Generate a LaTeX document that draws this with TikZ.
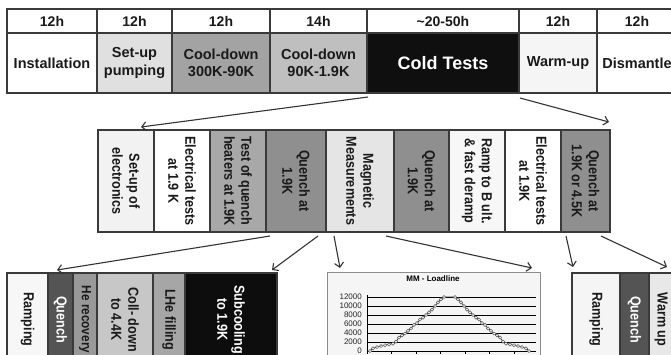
\documentclass[tikz,border=0pt]{standalone}
\usepackage{fontspec}
\setmainfont{Liberation Sans}
\newfontfamily\cond[FakeStretch=0.87]{Liberation Sans}
\usetikzlibrary{arrows.meta}
\definecolor{bord}{HTML}{3A3A3A}
\definecolor{txt}{HTML}{1A1A1A}
\tikzset{
  cell/.style={draw=bord, line width=1.2pt, inner sep=0pt, outer sep=0pt, align=center, text=txt},
  hcell/.style={cell, fill=white, minimum height=24, font=\fontsize{14}{16}\selectfont\bfseries},
  tcell/.style={cell, minimum height=60, font=\fontsize{14.5}{17.5}\selectfont\bfseries},
  vcell/.style={cell, rotate=-90, font=\cond\fontsize{14.5}{17}\selectfont\bfseries},
  arr/.style={draw=black!80, line width=1.1pt, -{Straight Barb[length=4.5pt,width=9pt,line width=1.1pt]}},
  gridl/.style={draw=black, line width=0.6pt},
  ylab/.style={anchor=east, inner sep=0pt, font=\fontsize{8}{9}\selectfont, text=black!85},
  dot/.style={circle, draw=black!65, fill=white, line width=0.5pt, inner sep=0pt, minimum size=3.2pt},
}
\begin{document}
\begin{tikzpicture}[x=1pt,y=-1pt]
\clip (0,0) rectangle (671,354);
\fill[white] (0,0) rectangle (671,354);

% ---------- top table: header ----------
\node[hcell, minimum width=90]  (h1) at (52,21)    {12h};
\node[hcell, minimum width=75]  (h2) at (134.5,21) {12h};
\node[hcell, minimum width=98]  (h3) at (221,21)   {12h};
\node[hcell, minimum width=97]  (h4) at (318.5,21) {14h};
\node[hcell, minimum width=152] (h5) at (443,21)   {\textasciitilde20-50h};
\node[hcell, minimum width=78]  (h6) at (558,21)   {12h};
\node[hcell, minimum width=80]  (h7) at (637,21)   {12h};

% ---------- top table: body ----------
\node[tcell, fill=white, minimum width=90]            (inst)  at (52,63)    {Installation};
\node[tcell, fill=black!12, minimum width=75]         (setup) at (134.5,63) {Set-up\\pumping};
\node[tcell, fill=black!36, minimum width=98]         (cd1)   at (221,63)   {Cool-down\\300K-90K};
\node[tcell, fill=black!25, minimum width=97]         (cd2)   at (318.5,63) {Cool-down\\90K-1.9K};
\node[tcell, fill=black!94, text=white, minimum width=152, font=\fontsize{18}{20}\selectfont\bfseries] (ct) at (443,63) {Cold Tests};
\node[tcell, fill=black!4, minimum width=78]          (wu)    at (558,63)   {Warm-up};
\node[tcell, fill=white, minimum width=80]            (dis)   at (637,63)   {Dismantle};

% ---------- middle row ----------
\node[vcell, fill=black!5,  minimum width=102, minimum height=56] (m1) at (126,181)   {Set-up of\\electronics};
\node[vcell, fill=white,    minimum width=102, minimum height=56] (m2) at (182,181)   {Electrical tests\\at 1.9 K};
\node[vcell, fill=black!34, minimum width=102, minimum height=56] (m3) at (238,181)   {Test of quench\\heaters at 1.9K};
\node[vcell, fill=black!44, minimum width=102, minimum height=60] (m4) at (296,181)   {Quench at\\1.9K};
\node[vcell, fill=black!10, minimum width=102, minimum height=68] (m5) at (360,181)   {Magnetic\\Measurements};
\node[vcell, fill=black!44, minimum width=102, minimum height=55] (m6) at (421.5,181) {Quench at\\1.9K};
\node[vcell, fill=black!3,  minimum width=102, minimum height=56] (m7) at (477,181)   {Ramp to B ult.\\\& fast deramp};
\node[vcell, fill=white,    minimum width=102, minimum height=56] (m8) at (533,181)   {Electrical tests\\at 1.9K};
\node[vcell, fill=black!44, minimum width=102, minimum height=49] (m9) at (585.5,181) {Quench at\\1.9K or 4.5K};

% ---------- bottom left row ----------
\node[vcell, fill=black!3,  minimum width=93, minimum height=41] (b1) at (27.5,319.5) {Ramping};
\node[vcell, fill=black!67, text=white, minimum width=93, minimum height=25] (b2) at (60.5,319.5) {Quench};
\node[vcell, fill=black!40, minimum width=93, minimum height=24, font=\cond\fontsize{13.5}{16}\selectfont\bfseries] (b3) at (85,319.5) {He recovery};
\node[vcell, fill=black!22, minimum width=93, minimum height=56] (b4) at (125,319.5)  {Coll- down\\to 4.4K};
\node[vcell, fill=black!35, minimum width=93, minimum height=32] (b5) at (169,319.5)  {LHe filling};
\node[vcell, fill=black!95, text=white, minimum width=93, minimum height=92] (b6) at (231,319.5) {Subcooling\\to 1.9K};

% ---------- bottom right row ----------
\node[vcell, fill=black!4,  minimum width=93, minimum height=48] (r1) at (596,319.5)   {Ramping};
\node[vcell, fill=black!67, text=white, minimum width=93, minimum height=29] (r2) at (634.5,319.5) {Quench};
\node[vcell, fill=black!9,  minimum width=93, minimum height=24] (r3) at (661,319.5)   {Warm up};

% ---------- chart ----------
\node[draw=black!45, fill=black!4, line width=0.6pt, minimum width=213, minimum height=95, anchor=north west, inner sep=0pt] (chart) at (327,272) {};
\node[font=\fontsize{8}{9}\selectfont\bfseries, inner sep=0pt] (ctitle) at (433,278.5) {MM - Loadline};
\foreach \v/\yy in {0/351,2000/342,4000/333,6000/324,8000/315,10000/306,12000/297}{
  \draw[gridl] (367,\yy) -- (536,\yy);
  \node[ylab] at (362,\yy) {\v};
}
\draw[gridl] (367,295) -- (367,354);
\foreach \xx in {391.5,416,440.5,465,489.5,514}{
  \draw[gridl] (\xx,351) -- (\xx,354);
}
\draw[black!80, line width=0.7pt]
  plot coordinates {(370,351) (373,348.3) (377,347) (381,346) (385,345.2) (389,344.3) (393,343.6) (396,341.6) (399,337.5) (402,335.3) (405,333.5) (408,330.8) (411,328.5) (414,324.9) (417,323.1) (420,319.5) (423,317.7) (426,315) (429,312.3) (432,309.6) (435,306) (438,302.4) (441,299.3) (444,297)
  (455,297) (458,299.3) (461,302.4) (464,306) (467,309.6) (470,312.3) (473,315) (476,317.7) (479,319.5) (482,323.1) (485,324.9) (488,328.5) (491,330.8) (494,333.5) (497,335.3) (500,337.5) (503,341.6) (506,343.6) (510,344.3) (514,345.2) (518,346) (522,347) (526,348.3) (529,351)};
\foreach \xx/\yy in {370/351,373/348.3,377/347,381/346,385/345.2,389/344.3,393/343.6,396/341.6,399/337.5,402/335.3,405/333.5,408/330.8,411/328.5,414/324.9,417/323.1,420/319.5,423/317.7,426/315,429/312.3,432/309.6,435/306,438/302.4,441/299.3,444/297}{
  \node[dot] at (\xx,\yy) {};
  \node[dot] at (899-\xx,\yy) {};
}

% ---------- arrows ----------
\coordinate (eA) at (141,127);
\coordinate (eB) at (609,122);
\draw[arr] ([shift={(1,4)}]ct.south west) -- (eA);
\draw[arr] ([shift={(1,5)}]wu.south west) -- (eB);

% rotated cells: south east = bottom-left corner, north east = bottom-right corner
\coordinate (e1) at (57,270);
\coordinate (e2) at (272,270);
\coordinate (e3) at (340,268);
\coordinate (e4) at (532,268);
\coordinate (e5) at (573,267);
\coordinate (e6) at (667,267);
\draw[arr] ([shift={(4,4)}]m4.south east) -- (e1);
\draw[arr] ([shift={(-8,4)}]m4.north east) -- (e2);
\draw[arr] ([shift={(8,4)}]m5.south east) -- (e3);
\draw[arr] ([shift={(-8,4)}]m5.north east) -- (e4);
\draw[arr] ([shift={(5,4)}]m9.south east) -- (e5);
\draw[arr] ([shift={(-9,4)}]m9.north east) -- (e6);
\end{tikzpicture}
\end{document}
